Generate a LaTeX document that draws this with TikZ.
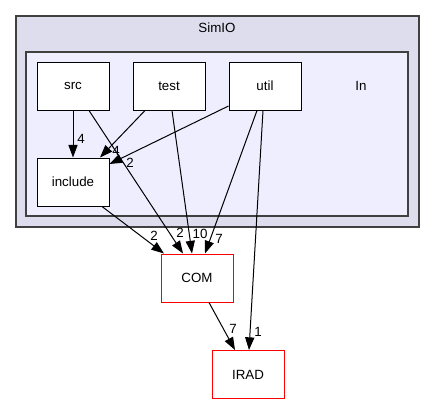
\documentclass[tikz,border=0pt]{standalone}
\usepackage{fontspec}
\setmainfont{Liberation Sans}
\usetikzlibrary{arrows.meta,calc}
\definecolor{outerfill}{HTML}{DDDDEE}
\definecolor{innerfill}{HTML}{EEEEFF}
\definecolor{frame}{HTML}{404040}
\definecolor{redline}{HTML}{FF0000}
\tikzset{
  dirbox/.style={draw=black, fill=white, line width=0.75pt, minimum width=54pt, minimum height=36pt, inner sep=0pt, font=\fontsize{10}{12}\selectfont},
  extbox/.style={dirbox, draw=redline},
  edge/.style={draw=black, line width=0.75pt, -{Triangle[length=9.5pt,width=6.9pt]}},
  lbl/.style={font=\fontsize{10}{12}\selectfont, inner sep=0pt},
  cluster/.style={draw=frame, line width=1pt},
}
\begin{document}
\begin{tikzpicture}[x=0.75pt,y=-0.75pt]
\useasboundingbox (0,0) rectangle (435,404);
% clusters
\path[cluster, fill=outerfill] (16,16) rectangle (419,227);
\node[lbl] (simio) at (217,28) {SimIO};
\path[cluster, fill=innerfill] (26,52) rectangle (408,216);
\node[lbl] (ln) at (361,86) {In};
% nodes
\node[dirbox] (src) at (73,86) {src};
\node[dirbox] (test) at (169,86) {test};
\node[dirbox] (util) at (265,86) {util};
\node[dirbox] (include) at (73,182) {include};
\node[extbox] (com) at (197,278) {COM};
\node[extbox] (irad) at (248,374.5) {IRAD};
% edges
\draw[edge] (src.south) -- (include.north) node[lbl, at={(81,139)}] {4};
\draw[edge] ($(src.south)+(16,0)$) -- ($(com.north)+(-14,0)$) node[lbl, at={(180,233)}] {2};
\draw[edge] ($(test.south)+(-24,0)$) -- ($(include.north)+(27,0)$) node[lbl, at={(116,151)}] {4};
\draw[edge] ($(util.west)+(0,20)$) -- ($(include.east)+(0,-18)$) node[lbl, at={(130,163)}] {2};
\draw[edge] ($(test.south)+(3,0)$) -- ($(com.north)+(-5,0)$) node[lbl, at={(200,234)}] {10};
\draw[edge] ($(util.south)+(-8,0)$) -- ($(com.north)+(8,0)$) node[lbl, at={(219,239)}] {7};
\draw[edge] ($(util.south)+(-2,0)$) -- ($(irad.north)+(1,0)$) node[lbl, at={(258,332)}] {1};
\draw[edge] ($(include.south)+(29,0)$) -- ($(com.north)+(-33,0)$) node[lbl, at={(154,236)}] {2};
\draw[edge] ($(com.south)+(12,0)$) -- ($(irad.north)+(-13,0)$) node[lbl, at={(233,329)}] {7};
\end{tikzpicture}
\end{document}
